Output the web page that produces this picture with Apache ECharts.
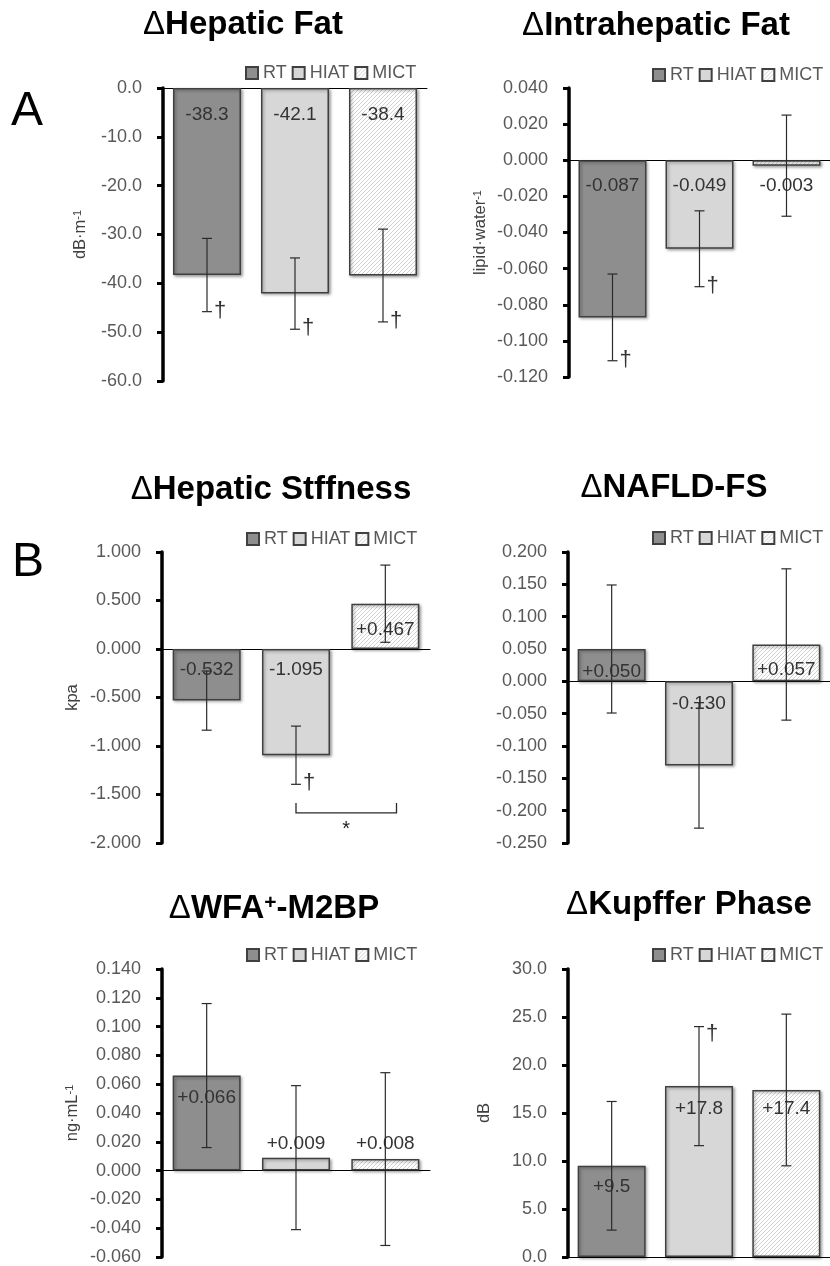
<!DOCTYPE html>
<html><head><meta charset="utf-8">
<script src="https://cdn.jsdelivr.net/npm/echarts@6/dist/echarts.min.js"></script>
<style>html,body{margin:0;padding:0;background:#fff}#c{width:830px;height:1266px}</style>
</head><body><div id="c"></div>
<script>
// ---------- data ----------
const groups = ['RT', 'HIAT', 'MICT'];

const fatMean = [-38.3, -42.1, -38.4];
const fatErr = [7.5, 7.3, 9.5];
const fatDagger = [1, 1, 1];
const fatAxis = [-60, 0, 10];

const ihfMean = [-0.087, -0.049, -0.003];
const ihfErr = [0.024, 0.021, 0.028];
const ihfDagger = [1, 1, 0];
const ihfAxis = [-0.12, 0.04, 0.02];

const stiffMean = [-0.532, -1.095, 0.467];
const stiffErr = [0.305, 0.300, 0.398];
const stiffDagger = [0, 1, 0];
const stiffAxis = [-2, 1, 0.5];
const stiffBracket = [1, 2, -1.69]; // HIAT vs MICT *

const naflMean = [0.050, -0.130, 0.057];
const naflErr = [0.099, 0.097, 0.117];
const naflDagger = [0, 0, 0];
const naflAxis = [-0.25, 0.2, 0.05];

const wfaMean = [0.066, 0.009, 0.008];
const wfaErr = [0.050, 0.050, 0.060];
const wfaDagger = [0, 0, 0];
const wfaAxis = [-0.06, 0.14, 0.02];

const kupMean = [9.5, 17.8, 17.4];
const kupErr = [6.7, 6.2, 7.9];
const kupDagger = [0, 1, 0];
const kupAxis = [0, 30, 5];

// ---------- layout / style ----------
const FF = '"Liberation Sans", Arial, Helvetica, sans-serif';
const panels = [
  {title: ['Hepatic Fat'], mean: fatMean, err: fatErr, dagger: fatDagger, axis: fatAxis, dec: 1,
   yName: ['dB·m', '-1'], grid: {left: 163, top: 88, width: 264, height: 293}, titlePos: [243, 25],
   legendPos: [245, 73], nameGap: 74, anchor: ['b', 'b', 'b'], dy: [27, 27, 27]},
  {title: ['Intrahepatic Fat'], mean: ihfMean, err: ihfErr, dagger: ihfDagger, axis: ihfAxis, dec: 3,
   yName: ['lipid·water', '-1'], grid: {left: 569, top: 88, width: 267, height: 289}, titlePos: [656, 26],
   legendPos: [652, 75], nameGap: 80, anchor: ['b', 'b', 'b'], dy: [26, 26, 26]},
  {title: ['Hepatic Stffness'], mean: stiffMean, err: stiffErr, dagger: stiffDagger, axis: stiffAxis, dec: 3,
   yName: ['kpa', ''], grid: {left: 162, top: 552, width: 268, height: 291}, titlePos: [271, 490],
   legendPos: [246, 539], nameGap: 81, anchor: ['b', 'b', 'b'], dy: [21, 21, -19]},
  {title: ['NAFLD-FS'], mean: naflMean, err: naflErr, dagger: naflDagger, axis: naflAxis, dec: 3,
   yName: null, grid: {left: 568, top: 552, width: 268, height: 291}, titlePos: [674, 488],
   legendPos: [652, 538], nameGap: 80, anchor: ['b', 'b', 'b'], dy: [-10, 22, -12]},
  {title: ['WFA', '+', '-M2BP'], mean: wfaMean, err: wfaErr, dagger: wfaDagger, axis: wfaAxis, dec: 3,
   yName: ['ng·mL', '-1'], grid: {left: 162, top: 969, width: 268, height: 291}, titlePos: [274, 909],
   legendPos: [246, 955], nameGap: 81, anchor: ['e', 'b', 'b'], dy: [22, -27, -27]},
  {title: ['Kupffer Phase'], mean: kupMean, err: kupErr, dagger: kupDagger, axis: kupAxis, dec: 1,
   yName: ['dB', ''], grid: {left: 568, top: 969, width: 268, height: 290}, titlePos: [689, 905],
   legendPos: [652, 955], nameGap: 75, anchor: ['e', 'e', 'e'], dy: [21, 23, 19]}
];

function hatch() {
  const c = document.createElement('canvas');
  c.width = 4; c.height = 4;
  const x = c.getContext('2d');
  x.fillStyle = '#ffffff'; x.fillRect(0, 0, 4, 4);
  x.strokeStyle = '#d0d0d0'; x.lineWidth = 1;
  x.beginPath();
  x.moveTo(0, 4); x.lineTo(4, 0);
  x.moveTo(-1, 1); x.lineTo(1, -1);
  x.moveTo(3, 5); x.lineTo(5, 3);
  x.stroke();
  return c;
}
const shadow = {shadowColor: 'rgba(0,0,0,0.35)', shadowBlur: 3, shadowOffsetX: 1.5, shadowOffsetY: 1.5};
const barStyles = [
  Object.assign({color: '#8e8e8e', borderColor: '#404040', borderWidth: 1.5}, shadow),
  Object.assign({color: '#d7d7d7', borderColor: '#404040', borderWidth: 1.5}, shadow),
  Object.assign({color: {image: hatch(), repeat: 'repeat'}, borderColor: '#404040', borderWidth: 1.5}, shadow)
];

const fmt = (v, d) => (Math.abs(v) < 1e-9 ? 0 : v).toFixed(d);
const lbl = (v, d) => (v > 0 ? '+' : '') + v.toFixed(d);

const option = {
  animation: false,
  backgroundColor: '#fff',
  grid: panels.map(p => Object.assign({containLabel: false}, p.grid)),
  xAxis: panels.map((p, k) => ({
    type: 'category', gridIndex: k, data: groups,
    axisLine: {show: true, onZero: true, lineStyle: {color: '#000', width: 1}},
    axisTick: {show: false}, axisLabel: {show: false}, splitLine: {show: false}
  })),
  yAxis: panels.map((p, k) => ({
    type: 'value', gridIndex: k, min: p.axis[0], max: p.axis[1], interval: p.axis[2],
    splitLine: {show: false},
    axisLine: {show: true, lineStyle: {color: '#000', width: 3.5}},
    axisTick: {show: true, length: 6, lineStyle: {color: '#000', width: 3}},
    axisLabel: {fontSize: 18, color: '#595959', fontFamily: FF, margin: 21,
      formatter: v => fmt(v, p.dec)},
    name: p.yName ? '{n|' + p.yName[0] + '}' + (p.yName[1] ? '{s|' + p.yName[1] + '}' : '') : '',
    nameLocation: 'middle', nameGap: p.nameGap, nameRotate: 90,
    nameTextStyle: {rich: {
      n: {fontSize: 16.5, color: '#404040', fontFamily: FF},
      s: {fontSize: 11, color: '#404040', fontFamily: FF, verticalAlign: 'top', padding: [0, 0, 6, 0]}
    }}
  })),
  legend: panels.map(p => ({
    left: p.legendPos[0], top: p.legendPos[1] - 9, data: groups, icon: 'rect',
    itemWidth: 12, itemHeight: 12, itemGap: 5, selectedMode: false, padding: 0,
    textStyle: {fontSize: 18, color: '#595959', fontFamily: FF}
  })),
  graphic: [],
  series: []
};

panels.forEach((p, k) => {
  const parts = p.title;
  let text = '{d|Δ}{b|' + parts[0] + '}';
  if (parts.length > 1) text += '{s|' + parts[1] + '}{b|' + parts[2] + '}';
  option.graphic.push({
    type: 'text', x: p.titlePos[0], y: p.titlePos[1],
    style: {text: text, align: 'center', verticalAlign: 'middle',
      rich: {
        d: {fontSize: 33, fontFamily: FF, fontWeight: 'normal', fill: '#000', color: '#000'},
        b: {fontSize: 33, fontFamily: FF, fontWeight: 'bold', fill: '#000', color: '#000'},
        s: {fontSize: 21, fontFamily: FF, fontWeight: 'bold', fill: '#000', color: '#000', verticalAlign: 'top'}
      }}
  });
  groups.forEach((g, i) => {
    option.series.push({
      type: 'bar', name: g, xAxisIndex: k, yAxisIndex: k,
      data: p.mean.map((v, j) => (j === i ? v : '-')),
      barWidth: 68, barGap: '-100%', itemStyle: barStyles[i], silent: true
    });
  });
  // value labels
  option.series.push({
    type: 'custom', xAxisIndex: k, yAxisIndex: k, silent: true, z: 5,
    data: p.mean.map((v, i) => [i, v]),
    renderItem: (params, api) => {
      const i = api.value(0), v = api.value(1);
      const base = api.coord([i, 0]), end = api.coord([i, v]);
      const y = (p.anchor[i] === 'b' ? base[1] : end[1]) + p.dy[i];
      return {type: 'text', x: base[0], y: y,
        style: {text: lbl(v, p.dec), align: 'center', verticalAlign: 'middle',
          font: '19px ' + FF, fill: '#333'}};
    }
  });
  // error bars + daggers
  option.series.push({
    type: 'custom', xAxisIndex: k, yAxisIndex: k, silent: true, z: 6,
    data: p.mean.map((v, i) => [i, v - p.err[i], v + p.err[i], p.dagger[i]]),
    renderItem: (params, api) => {
      const i = api.value(0), lo = api.value(1), hi = api.value(2), d = api.value(3);
      const a = api.coord([i, hi]), b = api.coord([i, lo]);
      const x = a[0], cw = 5;
      const st = {stroke: '#2a2a2a', lineWidth: 1.2};
      const ch = [
        {type: 'line', shape: {x1: x, y1: a[1], x2: x, y2: b[1]}, style: st},
        {type: 'line', shape: {x1: x - cw, y1: a[1], x2: x + cw, y2: a[1]}, style: st},
        {type: 'line', shape: {x1: x - cw, y1: b[1], x2: x + cw, y2: b[1]}, style: st}
      ];
      if (d) {
        const top = Math.abs(hi) > Math.abs(lo);
        ch.push({type: 'text', x: x + 13, y: top ? a[1] + 7 : b[1] - 1,
          style: {text: '†', align: 'center', verticalAlign: 'middle', font: '22px ' + FF, fill: '#333'}});
      }
      return {type: 'group', children: ch};
    }
  });
});

// significance bracket (Hepatic stiffness: HIAT vs MICT)
option.series.push({
  type: 'custom', xAxisIndex: 2, yAxisIndex: 2, silent: true, z: 6,
  data: [stiffBracket],
  renderItem: (params, api) => {
    const a = api.coord([api.value(0), api.value(2)]);
    const b = api.coord([api.value(1), api.value(2)]);
    const bw = api.size([1, 0])[0];
    const x1 = a[0], x2 = b[0] + 0.125 * bw, y = a[1];
    return {type: 'group', children: [
      {type: 'polyline', shape: {points: [[x1, y - 10], [x1, y], [x2, y], [x2, y - 10]]},
        style: {stroke: '#2a2a2a', lineWidth: 1.3, fill: null}},
      {type: 'text', x: (x1 + x2) / 2, y: y + 17,
        style: {text: '*', align: 'center', verticalAlign: 'middle', font: '20px ' + FF, fill: '#222'}}
    ]};
  }
});

// panel letters
option.graphic.push({type: 'text', x: 27, y: 112, style: {text: 'A', align: 'center', verticalAlign: 'middle', font: '48px ' + FF, fill: '#000'}});
option.graphic.push({type: 'text', x: 28, y: 563, style: {text: 'B', align: 'center', verticalAlign: 'middle', font: '48px ' + FF, fill: '#000'}});

const chart = echarts.init(document.getElementById('c'), null, {renderer: 'canvas'});
chart.setOption(option);
</script>
</body></html>
